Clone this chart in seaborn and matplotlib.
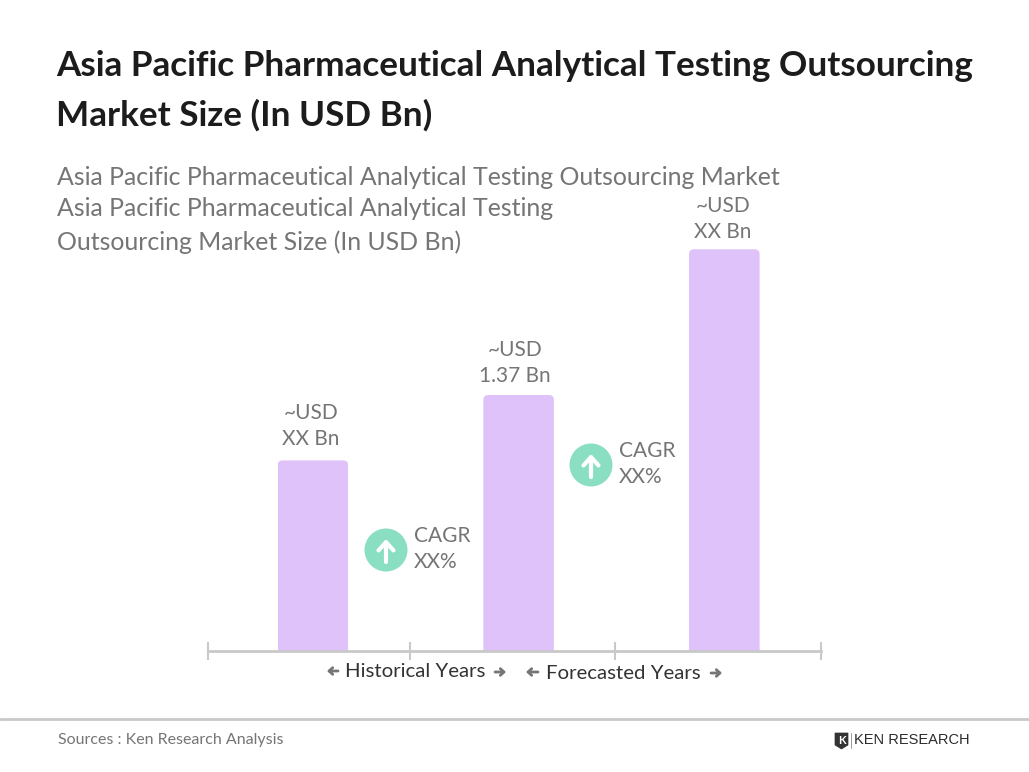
import matplotlib
matplotlib.use("Agg")
import matplotlib.pyplot as plt
from matplotlib.patches import Circle, FancyBboxPatch, Polygon
from matplotlib.transforms import IdentityTransform
import pandas as pd
import seaborn as sns

years = ["Historical", "Current", "Forecast"]
market_size = [1.02, 1.37, 2.15]
bar_labels = ["~USD\nXX Bn", "~USD\n1.37 Bn", "~USD\nXX Bn"]
period_edges = [-0.51, 0.47, 1.47, 2.47]

sns.set_theme(style="white")
plt.rcParams["font.family"] = ["Lato", "DejaVu Sans"]

df = pd.DataFrame({"year": years, "size": market_size})

fig = plt.figure(figsize=(10.29, 7.72), dpi=100)
W, H = 1029, 772

# bars, axis box lines up with the baseline of the picture
ax = fig.add_axes([208 / W, 1 - 651 / H, 613 / W, 500 / H])
sns.barplot(data=df, x="year", y="size", color="#dfc2fa", saturation=1, width=0.343, linewidth=0, ax=ax)
ax.set_xlim(period_edges[0], period_edges[-1])
ax.set_ylim(0, 500 * 1.37 / 256)
ax.set_xlabel("")
ax.set_ylabel("")
ax.set_yticks([])
ax.set_xticks(period_edges)
ax.set_xticklabels([])
ax.tick_params(axis="x", direction="inout", length=13, width=1.5, color="#c9c9c9", bottom=True)
sns.despine(ax=ax, left=True)
ax.spines["bottom"].set_color("#c9c9c9")
ax.spines["bottom"].set_linewidth(2)
ax.patch.set_alpha(0)

# rounded corners on the bars
fig.canvas.draw()
for bar in ax.patches:
    bb = bar.get_window_extent()
    clip = FancyBboxPatch((bb.x0, bb.y0 - 10), bb.width, bb.height + 10,
                          boxstyle="round,pad=0,rounding_size=5", transform=IdentityTransform())
    bar.set_clip_path(clip)

# overlay in pixels for the text and decorations
ov = fig.add_axes([0, 0, 1, 1])
ov.set_xlim(0, W)
ov.set_ylim(H, 0)
ov.axis("off")
ov.patch.set_alpha(0)

dark = "#1c1c1c"
grey = "#757575"
arrow_grey = "#757575"

ov.text(56, 66, "Asia Pacific Pharmaceutical Analytical Testing Outsourcing", fontsize=25.28, fontweight="bold", color=dark, va="center")
ov.text(56, 115, "Market Size (In USD Bn)", fontsize=25.28, fontweight="bold", color=dark, va="center")

ov.text(57, 177.5, "Asia Pacific Pharmaceutical Analytical Testing Outsourcing Market", fontsize=17.9, color=grey, va="center")
ov.text(57, 208, "Asia Pacific Pharmaceutical Analytical Testing", fontsize=17.9, color=grey, va="center")
ov.text(57, 242, "Outsourcing Market Size (In USD Bn)", fontsize=17.9, color=grey, va="center")

for x, y, label in zip([311, 515, 723], [426, 363, 219], bar_labels):
    ov.text(x, y, label, fontsize=15, color=grey, ha="center", va="center", linespacing=1.38)

for cx, cy, tx in [(386, 550, 414), (591, 465, 619)]:
    ov.add_patch(Circle((cx, cy), 21.5, color="#8adfc3", lw=0))
    ov.annotate("", xy=(cx, cy - 11), xytext=(cx, cy + 12),
                arrowprops=dict(arrowstyle="->,head_length=0.5,head_width=0.45", color="white", lw=3, shrinkA=0, shrinkB=0))
    ov.text(tx, cy - 14, "CAGR", fontsize=15, color=grey, va="center")
    ov.text(tx, cy + 12, "XX%", fontsize=15, color=grey, va="center")

ov.text(345, 671.5, "Historical Years", fontsize=14.7, color="#333333", va="center")
ov.text(546, 673.5, "Forecasted Years", fontsize=14.7, color="#333333", va="center")
for x0, x1, y in [(338, 327, 671), (495, 506, 672), (538, 526, 672), (711, 722, 673)]:
    ov.annotate("", xy=(x1, y), xytext=(x0, y),
                arrowprops=dict(arrowstyle="->,head_length=0.22,head_width=0.2", color=arrow_grey, lw=2, shrinkA=0, shrinkB=0))

# footer
ov.plot([0, W], [719, 719], color="#c9c9c9", lw=2)
ov.text(58, 740, "Sources : Ken Research Analysis", fontsize=11.5, color=grey, va="center")

# logo
ov.add_patch(Polygon([(835, 733), (848, 733), (848, 745), (841.5, 749), (835, 745)], closed=True,
                     facecolor="#333333", edgecolor="#333333", lw=0.5))
ov.text(841.5, 740.5, "K", fontsize=8, color="white", fontweight="bold", ha="center", va="center")
ov.plot([851, 851], [733, 748], color="#999999", lw=0.7)
ov.text(854, 740.5, "KEN RESEARCH", fontsize=10.5, color="#2b2b2b", va="center", family="Liberation Sans")

fig.savefig("out.png", dpi=100)
